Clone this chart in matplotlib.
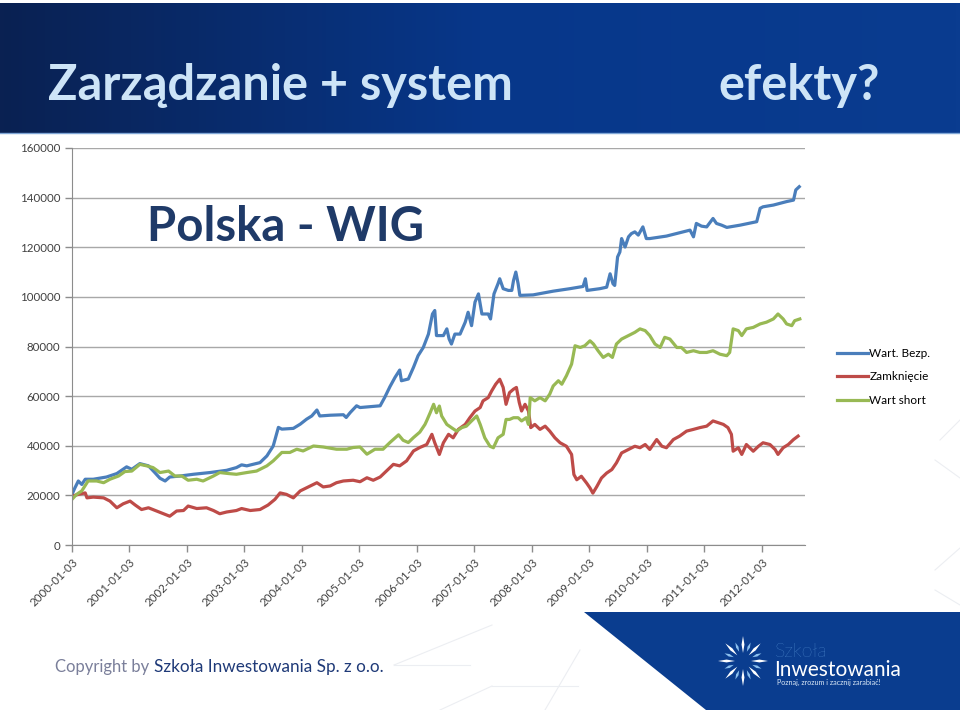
import numpy as np
import matplotlib.pyplot as plt
from matplotlib.patches import Polygon
from matplotlib.colors import LinearSegmentedColormap

# lata od 2000-01-03 (oś X) i wartości portfela
t_bezp = [0.00, 0.05, 0.11, 0.17, 0.23, 0.37, 0.60, 0.78, 0.95, 1.04, 1.18, 1.33, 1.44, 1.53, 1.62,
          1.70, 1.88, 2.11, 2.40, 2.69, 2.86, 2.95, 3.04, 3.27, 3.39, 3.50, 3.59, 3.65, 3.85, 3.97,
          4.08, 4.17, 4.26, 4.31, 4.49, 4.72, 4.77, 4.84, 4.95, 5.01, 5.36, 5.44, 5.53, 5.62, 5.70,
          5.73, 5.85, 5.94, 6.02, 6.11, 6.20, 6.27, 6.31, 6.34, 6.46, 6.52, 6.56, 6.60, 6.66, 6.75,
          6.84, 6.89, 6.95, 7.01, 7.07, 7.13, 7.24, 7.28, 7.34, 7.41, 7.44, 7.50, 7.59, 7.65, 7.68,
          7.72, 7.76, 7.79, 8.02, 8.37, 8.66, 8.89, 8.93, 8.96, 9.18, 9.30, 9.36, 9.41, 9.44, 9.49,
          9.53, 9.56, 9.62, 9.68, 9.73, 9.79, 9.85, 9.93, 9.99, 10.05, 10.34, 10.75, 10.81, 10.86,
          10.95, 11.04, 11.15, 11.21, 11.30, 11.39, 11.62, 11.91, 11.97, 12.02, 12.20, 12.43, 12.55,
          12.59, 12.65]
wart_bezp = [20400, 23000, 25800, 24400, 26500, 26500, 27400, 28800, 31500, 30500, 32800, 31900,
             29200, 26900, 25800, 27400, 27800, 28500, 29200, 30100, 31200, 32300, 31900, 33200,
             35900, 39900, 47400, 46700, 47000, 48700, 50700, 52000, 54400, 52000, 52300, 52500,
             51400, 53400, 56100, 55400, 56100, 59500, 63800, 67600, 70500, 66200, 66900, 71600,
             76300, 79600, 85000, 93100, 94500, 84400, 84400, 87100, 83000, 81000, 85000, 85000,
             89800, 93800, 88400, 97900, 101200, 93100, 93100, 91100, 101200, 105300, 107300,
             103300, 102600, 102600, 106600, 110000, 105300, 100600, 100800, 102300, 103300,
             104200, 107300, 102600, 103300, 103900, 109300, 105300, 104600, 116100, 118100,
             123500, 120100, 124200, 125500, 126200, 124900, 128200, 123500, 123500, 124500,
             126900, 124200, 129600, 128500, 128200, 131600, 129600, 128900, 128000, 128900,
             130300, 135700, 136300, 137000, 138400, 139000, 143100, 144400]

t_zamk = [0.00, 0.11, 0.23, 0.26, 0.37, 0.55, 0.66, 0.78, 0.89, 1.01, 1.10, 1.21, 1.33, 1.47, 1.62,
          1.70, 1.82, 1.94, 2.02, 2.17, 2.34, 2.46, 2.57, 2.69, 2.86, 2.95, 3.10, 3.27, 3.41, 3.53,
          3.62, 3.73, 3.85, 3.97, 4.11, 4.26, 4.37, 4.49, 4.60, 4.72, 4.89, 5.01, 5.13, 5.24, 5.36,
          5.50, 5.59, 5.70, 5.82, 5.94, 6.05, 6.17, 6.26, 6.31, 6.39, 6.46, 6.55, 6.63, 6.72, 6.84,
          6.92, 7.01, 7.10, 7.15, 7.24, 7.30, 7.37, 7.44, 7.50, 7.55, 7.61, 7.68, 7.73, 7.78, 7.82,
          7.88, 7.94, 7.98, 8.05, 8.14, 8.23, 8.31, 8.40, 8.49, 8.60, 8.69, 8.73, 8.78, 8.86, 8.95,
          9.01, 9.06, 9.13, 9.21, 9.30, 9.39, 9.47, 9.56, 9.68, 9.79, 9.88, 9.97, 10.05, 10.17,
          10.26, 10.34, 10.46, 10.57, 10.69, 10.81, 10.92, 11.04, 11.15, 11.24, 11.33, 11.41, 11.47,
          11.50, 11.59, 11.65, 11.73, 11.85, 11.94, 12.02, 12.14, 12.23, 12.28, 12.37, 12.46, 12.55,
          12.63]
zamkniecie = [19700, 20400, 21000, 19000, 19300, 19000, 17700, 15000, 16600, 17700, 16100, 14300,
              15000, 13700, 12300, 11600, 13700, 13900, 15700, 14700, 15000, 13900, 12600, 13300,
              13900, 14700, 13900, 14300, 16100, 18400, 21000, 20400, 19000, 21800, 23400, 25100,
              23400, 23800, 25100, 25800, 26100, 25500, 27100, 26100, 27400, 30500, 32500, 31900,
              33900, 37900, 39300, 40500, 44600, 41200, 36500, 41200, 44600, 43200, 46600, 48600,
              51300, 54000, 55400, 58100, 59400, 62100, 64800, 66800, 63500, 56700, 61400, 62800,
              63500, 57400, 54000, 56700, 54000, 47300, 48600, 46600, 47900, 45900, 43200, 41200,
              39800, 36500, 28400, 26300, 27700, 25000, 23000, 20900, 23600, 27000, 29000, 30400,
              33100, 37100, 38500, 39800, 39200, 40500, 38500, 42500, 39800, 39200, 42500, 43900,
              45900, 46600, 47300, 47900, 50000, 49300, 48600, 47300, 44600, 37800, 39200, 36500,
              40500, 37800, 39800, 41200, 40500, 38500, 36500, 39200, 40500, 42500, 43900]

t_short = [0.00, 0.08, 0.17, 0.28, 0.43, 0.55, 0.66, 0.81, 0.92, 1.04, 1.18, 1.30, 1.41, 1.53,
           1.68, 1.79, 1.91, 2.02, 2.17, 2.28, 2.46, 2.57, 2.72, 2.86, 3.04, 3.21, 3.39, 3.50,
           3.65, 3.79, 3.91, 4.02, 4.20, 4.37, 4.60, 4.78, 4.89, 5.01, 5.13, 5.27, 5.41, 5.53,
           5.68, 5.76, 5.85, 5.94, 6.05, 6.14, 6.17, 6.23, 6.29, 6.34, 6.39, 6.43, 6.52, 6.60,
           6.69, 6.78, 6.86, 6.95, 7.04, 7.10, 7.18, 7.27, 7.33, 7.41, 7.50, 7.55, 7.61, 7.68,
           7.76, 7.82, 7.90, 7.94, 7.97, 8.05, 8.14, 8.23, 8.31, 8.37, 8.46, 8.52, 8.60, 8.69,
           8.75, 8.84, 8.92, 9.01, 9.07, 9.15, 9.24, 9.33, 9.40, 9.47, 9.56, 9.68, 9.79, 9.88,
           9.97, 10.05, 10.14, 10.23, 10.31, 10.40, 10.52, 10.60, 10.69, 10.81, 10.92, 11.04,
           11.15, 11.27, 11.39, 11.44, 11.50, 11.59, 11.65, 11.73, 11.85, 11.97, 12.08, 12.20,
           12.28, 12.37, 12.43, 12.52, 12.57, 12.66]
wart_short = [18400, 20400, 21800, 25800, 25800, 25100, 26500, 27800, 29600, 29800, 32500, 31900,
              31200, 29200, 29800, 27800, 27800, 26100, 26500, 25800, 27800, 29200, 28800, 28500,
              29200, 29800, 31900, 33900, 37300, 37300, 38600, 37900, 39900, 39500, 38600, 38600,
              39300, 39500, 36600, 38600, 38600, 41300, 44400, 42200, 41300, 43300, 45500, 48600,
              50100, 53300, 56700, 53300, 56000, 52000, 48600, 47300, 45900, 47300, 47900, 50000,
              52000, 48600, 43200, 39800, 39200, 43200, 44600, 50600, 50600, 51300, 51300, 50000,
              51300, 48600, 59400, 58100, 59400, 58100, 60800, 64100, 66200, 64800, 68200, 72900,
              80300, 79600, 80300, 82300, 81000, 78300, 75600, 76900, 75600, 81000, 83000, 84400,
              85700, 87100, 86400, 84400, 81000, 79600, 83700, 83000, 79600, 79600, 77600, 78300,
              77600, 77600, 78300, 76900, 76300, 77600, 87100, 86400, 84400, 87100, 87700, 89100,
              89800, 91100, 93100, 91100, 89100, 88400, 90400, 91100]

tick_years = [0, 1, 2, 3, 4, 5, 6, 7, 8, 9, 10, 11, 12]
tick_labels = ["2000-01-03", "2001-01-03", "2002-01-03", "2003-01-03", "2004-01-03",
               "2005-01-03", "2006-01-03", "2007-01-03", "2008-01-03", "2009-01-03",
               "2010-01-03", "2011-01-03", "2012-01-03"]
labels = ["Wart. Bezp.", "Zamknięcie", "Wart short"]
colors = ["#4a7ebb", "#be4b48", "#98b954"]

plt.rcParams['font.family'] = ["Lato", "DejaVu Sans"]

fig = plt.figure(figsize=(9.6, 7.1), dpi=100)

# tło slajdu w pikselach
bg = fig.add_axes([0, 0, 1, 1], zorder=0)
bg.set_xlim(0, 960)
bg.set_ylim(710, 0)
bg.axis('off')

grad = np.linspace(0, 1, 256).reshape(1, -1)
hdr_cmap = LinearSegmentedColormap.from_list("hdr", ["#0a2152", "#07378a", "#0a3c90"])
bg.imshow(grad, cmap=hdr_cmap, extent=(0, 960, 133, 3), aspect='auto', zorder=1)
bg.plot([0, 960], [133, 133], color="#7fa6d6", lw=1, zorder=2)

bg.text(48, 100, "Zarządzanie + system", color="#cde4f7", fontsize=35, fontweight='bold',
        va='baseline', zorder=3)
bg.text(718, 100, "efekty?", color="#cde4f7", fontsize=35, fontweight='bold',
        va='baseline', zorder=3)

# stopka
bg.add_patch(Polygon([[584, 612], [960, 612], [960, 710], [706, 710]], closed=True,
                     facecolor="#0a3d8f", edgecolor='none', zorder=1))
for x0, y0, x1, y1 in [(492, 625, 394, 665), (394, 665, 470, 665), (492, 686, 578, 686),
                       (492, 686, 440, 710), (580, 650, 545, 710), (940, 440, 960, 420),
                       (935, 460, 960, 478), (935, 570, 960, 548), (935, 590, 960, 605)]:
    bg.plot([x0, x1], [y0, y1], color="#eceef2", lw=0.8, zorder=1)

bg.text(55, 672, "Copyright by", color="#7a7f9a", fontsize=12, va='baseline', zorder=3)
bg.text(154, 672, "Szkoła Inwestowania Sp. z o.o.", color="#1f3a78", fontsize=12.3,
        va='baseline', zorder=3)

# logo
cx, cy = 743, 661
for k in range(16):
    a = np.deg2rad(k * 22.5)
    col = "white" if k % 2 == 0 else "#8cc0ee"
    r0, r1 = (8, 25) if k % 2 == 0 else (10, 20)
    da = np.deg2rad(5)
    pts = [[cx + r0 * np.cos(a), cy + r0 * np.sin(a)],
           [cx + (r0 + r1) / 2 * np.cos(a - da), cy + (r0 + r1) / 2 * np.sin(a - da)],
           [cx + r1 * np.cos(a), cy + r1 * np.sin(a)],
           [cx + (r0 + r1) / 2 * np.cos(a + da), cy + (r0 + r1) / 2 * np.sin(a + da)]]
    bg.add_patch(Polygon(pts, closed=True, facecolor=col, edgecolor='none', zorder=3))
bg.text(775, 657, "Szkoła", color="#6aa8e6", fontsize=14, fontweight='light', va='baseline', zorder=3)
bg.text(774, 676, "Inwestowania", color="white", fontsize=15, va='baseline', zorder=3)
bg.text(777, 685, "Poznaj, zrozum i zacznij zarabiać!", color="#d8e6f5", fontsize=5.2,
        va='baseline', zorder=3)

# wykres
ax = fig.add_axes([72 / 960, 1 - 545 / 710, 733 / 960, 397 / 710], zorder=2)
ax.set_facecolor('none')
for t, v, lab, c in zip([t_bezp, t_zamk, t_short], [wart_bezp, zamkniecie, wart_short],
                        labels, colors):
    ax.plot(t, v, color=c, lw=2.3, label=lab, solid_joinstyle='round')

ax.set_xlim(0, 12.75)
ax.set_ylim(0, 160000)
ax.set_yticks(np.arange(0, 160001, 20000))
ax.set_yticklabels([str(v) for v in range(0, 160001, 20000)])
ax.set_xticks(tick_years)
ax.set_xticklabels(tick_labels, rotation=45, ha='right', va='top', rotation_mode='anchor')
ax.tick_params(axis='both', labelsize=8.3, colors="#8c8c8c", labelcolor="#404040",
               length=5, width=1)
ax.tick_params(axis='x', pad=3)
ax.grid(axis='y', color="#a8a8a8", lw=1)
ax.set_axisbelow(True)
for s in ['top', 'right']:
    ax.spines[s].set_visible(False)
for s in ['left', 'bottom']:
    ax.spines[s].set_color("#8c8c8c")

ax.text(147, 241, "Polska - WIG", transform=bg.transData, color="#1f3a68", fontsize=34,
        fontweight='bold', va='baseline', zorder=5)

fig.legend(loc='upper left', bbox_to_anchor=(831 / 960, 1 - 342 / 710), frameon=False,
           fontsize=8.5, handlelength=2.6, handletextpad=0.15, labelspacing=1.05, borderpad=0)

fig.savefig("out.png", dpi=100)
